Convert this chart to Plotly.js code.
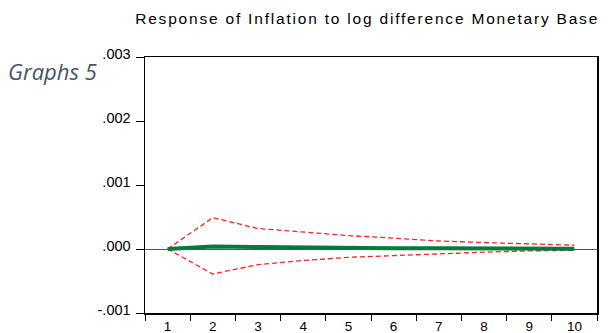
<!DOCTYPE html>
<html><head><meta charset="utf-8">
<script src="https://cdn.plot.ly/plotly-3.0.1.min.js"></script>
<style>html,body{margin:0;padding:0;background:#fff}#chart{width:616px;height:333px}
.gtitle{letter-spacing:1.8px}</style>
</head><body><div id="chart"></div>
<script>
const periods = [1,2,3,4,5,6,7,8,9,10];
const response = [0, 0.00004, 0.00003, 0.00002, 0.000015, 0.000012, 0.00001, 0.000008, 0.000006, 0.000005];
const upperBand = [0, 0.00049, 0.00032, 0.00026, 0.00021, 0.00017, 0.000125, 0.0001, 0.00008, 0.00006];
const lowerBand = [0, -0.00039, -0.000245, -0.00018, -0.00013, -0.0001, -0.00007, -0.00005, -0.00003, -0.00002];
const yTickVals = [-0.001, 0, 0.001, 0.002, 0.003];
const yTickText = ['-.001', '.000', '.001', '.002', '.003'];
const xBoundaries = [0.5,1.5,2.5,3.5,4.5,5.5,6.5,7.5,8.5,9.5,10.5];

const traces = [
  {x: periods, y: upperBand, mode: 'lines', line: {color: '#ff2020', width: 1.3, dash: '5px,3px'}, hoverinfo: 'skip'},
  {x: periods, y: lowerBand, mode: 'lines', line: {color: '#ff2020', width: 1.3, dash: '5px,3px'}, hoverinfo: 'skip'},
  {x: periods, y: response, mode: 'lines', line: {color: '#067a3a', width: 4}},
  {x: xBoundaries, y: xBoundaries.map(() => -0.001), xaxis: 'x2', mode: 'markers', marker: {opacity: 0}, hoverinfo: 'skip'}
];

const layout = {
  width: 616, height: 333,
  margin: {l: 145, r: 19, t: 57, b: 20},
  paper_bgcolor: '#fff', plot_bgcolor: '#fff',
  showlegend: false,
  font: {family: 'Liberation Sans, Arial, sans-serif', color: '#000', size: 14},
  title: {text: 'Response of Inflation to log difference Monetary Base', xref: 'container', yref: 'container', x: 0.596, xanchor: 'center', y: 0.943, yanchor: 'middle', font: {size: 15.5, color: '#000', family: 'Liberation Sans, Arial, sans-serif'}},
  xaxis: {
    range: [0.5, 10.5], tickvals: periods, ticktext: periods.map(String),
    ticks: '', showgrid: false, zeroline: false,
    showline: true, linecolor: '#000', linewidth: 1.5, mirror: true,
    tickfont: {size: 13.5}, ticklabelstandoff: 0
  },
  xaxis2: {
    overlaying: 'x', range: [0.5, 10.5], tickvals: xBoundaries, showticklabels: false,
    ticks: 'outside', ticklen: 7, tickcolor: '#000', tickwidth: 1,
    showgrid: false, zeroline: false, showline: false, side: 'bottom'
  },
  yaxis: {
    range: [-0.001, 0.003], tickvals: yTickVals, ticktext: yTickText,
    ticks: 'outside', ticklen: 8, tickcolor: '#000', tickwidth: 1,
    showgrid: false, zeroline: true, zerolinecolor: '#555', zerolinewidth: 1,
    showline: true, linecolor: '#000', linewidth: 1.5, mirror: true,
    tickfont: {size: 14.5}, ticklabelshift: -3, ticklabelstandoff: 2
  },
  annotations: [
    {text: '<i>Graphs 5</i>', xref: 'paper', yref: 'paper', x: -0.3075, y: 0.946, xanchor: 'left', yanchor: 'middle', showarrow: false,
     font: {family: 'Open Sans, sans-serif', size: 22, color: '#44546a'}}
  ]
};
Plotly.newPlot('chart', traces, layout, {staticPlot: true});
</script></body></html>
